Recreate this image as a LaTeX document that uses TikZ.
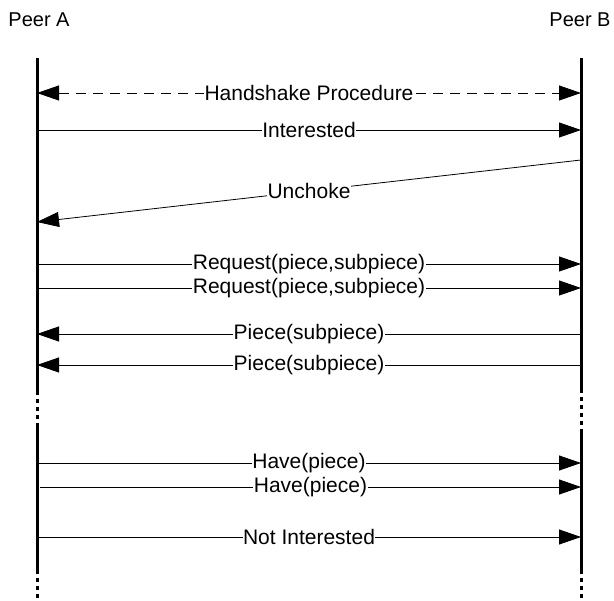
\documentclass[tikz,border=0pt]{standalone}
\usepackage{fontspec}
\setmainfont{Liberation Sans}
\usetikzlibrary{arrows.meta}
\begin{document}
\begin{tikzpicture}[x=1pt,y=-1pt,
  lifeline/.style={line width=3pt},
  lifedots/.style={line width=3pt,dash pattern=on 4pt off 4pt},
  msg/.style={line width=0.8pt,-{Triangle[length=22pt,width=15pt]}},
  msgdash/.style={line width=0.8pt,dash pattern=on 10pt off 7pt,
    {Triangle[length=22pt,width=15pt]}-{Triangle[length=22pt,width=15pt]}},
  msglabel/.style={fill=white,inner sep=0.5pt,font=\fontsize{21}{23}\selectfont},
  peer/.style={font=\fontsize{20}{22}\selectfont,inner sep=0pt}]
\useasboundingbox (0,0) rectangle (614,601);

% peer names
\node[peer] (pa) at (39,20) {Peer A};
\node[peer] (pb) at (580,20) {Peer B};

% lifeline of peer A
\coordinate (a0) at (37,58);
\coordinate (a1) at (37,391);
\coordinate (a2) at (37,425);
\coordinate (a3) at (37,570);
\coordinate (a4) at (37,601);
\draw[lifeline] (a0) -- (a1);
\draw[lifedots] (a1) -- (a2);
\draw[lifeline] (a2) -- (a3);
\draw[lifedots] (a3) -- (a4);

% lifeline of peer B
\coordinate (b0) at (581,58);
\coordinate (b1) at (581,389);
\coordinate (b2) at (581,430);
\coordinate (b3) at (581,570);
\coordinate (b4) at (581,601);
\draw[lifeline] (b0) -- (b1);
\draw[lifedots] (b1) -- (b2);
\draw[lifeline] (b2) -- (b3);
\draw[lifedots] (b3) -- (b4);

% message end points
\coordinate (hsA) at (37,93);   \coordinate (hsB) at (581,93);
\coordinate (inA) at (37,130);  \coordinate (inB) at (581,130);
\coordinate (ucA) at (37,222);  \coordinate (ucB) at (581,160);
\coordinate (r1A) at (37,264);  \coordinate (r1B) at (581,264);
\coordinate (r2A) at (37,288);  \coordinate (r2B) at (581,288);
\coordinate (p1A) at (37,334);  \coordinate (p1B) at (581,334);
\coordinate (p2A) at (37,365);  \coordinate (p2B) at (581,365);
\coordinate (h1A) at (37,463);  \coordinate (h1B) at (581,463);
\coordinate (h2A) at (40,487);  \coordinate (h2B) at (581,487);
\coordinate (niA) at (37,537);  \coordinate (niB) at (581,537);

% messages
\draw[msgdash] (hsA) -- node[msglabel] {Handshake Procedure} (hsB);
\draw[msg] (inA) -- node[msglabel] {Interested} (inB);
\draw[msg] (ucB) -- node[msglabel] {Unchoke} (ucA);
\draw[msg] (r1A) -- node[msglabel] {Request(piece,subpiece)} (r1B);
\draw[msg] (r2A) -- node[msglabel] {Request(piece,subpiece)} (r2B);
\draw[msg] (p1B) -- node[msglabel] {Piece(subpiece)} (p1A);
\draw[msg] (p2B) -- node[msglabel] {Piece(subpiece)} (p2A);
\draw[msg] (h1A) -- node[msglabel] {Have(piece)} (h1B);
\draw[msg] (h2A) -- node[msglabel] {Have(piece)} (h2B);
\draw[msg] (niA) -- node[msglabel] {Not Interested} (niB);
\end{tikzpicture}
\end{document}
